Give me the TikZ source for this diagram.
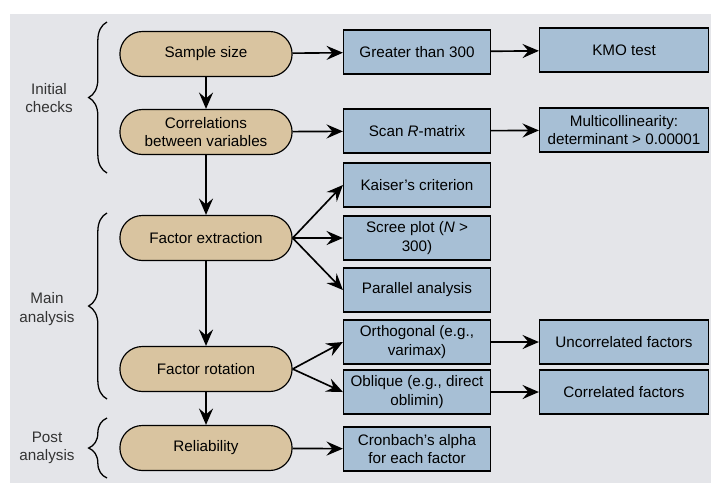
\documentclass[tikz,border=0pt]{standalone}
\usepackage{fontspec}
\setmainfont{Liberation Sans}
\usetikzlibrary{shapes.misc,arrows.meta,decorations.pathreplacing}
\definecolor{pagegrey}{HTML}{E4E5E9}
\definecolor{pilltan}{HTML}{D9C4A0}
\definecolor{boxblue}{HTML}{A7BFD5}
\begin{document}
\begin{tikzpicture}
  [x=0.03cm,y=-0.03cm,
  txt/.style={font=\fontsize{13}{15.5}\selectfont},
  pill/.style={txt,draw,line width=1pt,fill=pilltan,rounded rectangle,
    minimum width=5.4cm,minimum height=1.35cm,align=center},
  box/.style={txt,draw,line width=1pt,fill=boxblue,minimum width=4.41cm,
    minimum height=1.32cm,align=center,inner sep=1pt},
  widebox/.style={box,minimum width=5.07cm},
  arr/.style={-{Stealth[length=14pt,width=12pt,inset=5pt]},line width=1.4pt},
  brc/.style={decorate,decoration={brace,amplitude=0.55cm},line width=1.1pt},
  side/.style={txt,align=center,text=black!80}]
  \useasboundingbox (0,0) rectangle (711,491);
  %Seite
  \fill [white] (0,0) rectangle (711,491);
  \fill [pagegrey] (10,14) rectangle (711,483);
  %Schritte
  \node [pill] (Size) at (206,54) {Sample size};
  \node [pill] (Corr) at (206,132) {Correlations\\between variables};
  \node [pill] (Extr) at (206,238) {Factor extraction};
  \node [pill] (Rot) at (206,369) {Factor rotation};
  \node [pill] (Rel) at (206,448) {Reliability};
  %Kriterien
  \node [box] (Gt) at (417,52) {Greater than 300};
  \node [box] (Scan) at (417,131) {Scan \textit{R}-matrix};
  \node [box] (Kai) at (417,185) {Kaiser's criterion};
  \node [box] (Scree) at (417,238) {Scree plot (\textit{N} >\\300)};
  \node [box] (Par) at (417,290) {Parallel analysis};
  \node [box] (Orth) at (417,342) {Orthogonal (e.g.,\\varimax)};
  \node [box] (Obl) at (417,392) {Oblique (e.g., direct\\oblimin)};
  \node [box] (Cron) at (417,449) {Cronbach's alpha\\for each factor};
  \node [widebox] (KMO) at (624,50) {KMO test};
  \node [widebox] (Multi) at (624,130) {Multicollinearity:\\determinant > 0.00001};
  \node [widebox] (Unc) at (624,342) {Uncorrelated factors};
  \node [widebox] (Cor) at (624,392) {Correlated factors};
  %Pfeile
  \draw [arr] (Size) -- (Corr);
  \draw [arr] (Corr) -- (Extr);
  \draw [arr] (Extr) -- (Rot);
  \draw [arr] (Rot) -- (Rel);
  \draw [arr] (Size) -- (Gt);
  \draw [arr] (Gt) -- (KMO);
  \draw [arr] (Corr) -- (Scan);
  \draw [arr] (Scan) -- (Multi);
  \draw [arr] (Extr.east) -- (Kai.west);
  \draw [arr] (Extr.east) -- (Scree.west);
  \draw [arr] (Extr.east) -- (Par.west);
  \draw [arr] (Rot.east) -- (Orth.west);
  \draw [arr] (Rot.east) -- (Obl.west);
  \draw [arr] (Orth) -- (Unc);
  \draw [arr] (Obl) -- (Cor);
  \draw [arr] (Rel) -- (Cron);
  %Klammern
  \draw [brc] (107,173) -- (107,22);
  \draw [brc] (107,399) -- (107,213);
  \draw [brc] (107,478) -- (107,418);
  \node [side] (Init) at (49,98) {Initial\\checks};
  \node [side] (Main) at (47,309) {Main\\analysis};
  \node [side] (Post) at (47,448) {Post\\analysis};
\end{tikzpicture}
\end{document}
